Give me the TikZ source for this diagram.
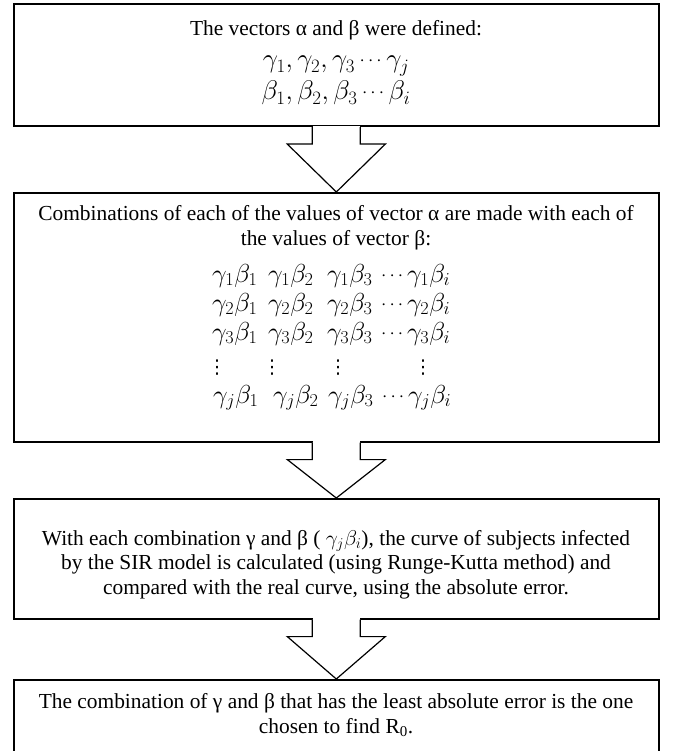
\RequirePackage{fix-cm}
\documentclass[tikz,border=0pt]{standalone}
\usepackage{fontspec}
\setmainfont{Liberation Serif}
\newfontfamily\dejavu{DejaVu Sans}
\usetikzlibrary{calc}
\newcommand\sdots{\mathinner{\raisebox{2pt}{\fontsize{19}{20}\selectfont$\cdots$}}}
\newcommand\mrow[8]{\makebox[#1][l]{$#5$}\makebox[#2][l]{$#6$}\makebox[#3][l]{$#7$}\makebox[#4][c]{$\sdots$}$#8$}
\newcommand\blockarr[2]{%
  \fill[white] ($(#1.south)+(-23.4,1.3)$) rectangle ($(#1.south)+(23.4,-1.3)$);
  \draw[blockarrow] ($(#1.south)+(-24,0)$) -- ($(#1.south)+(-24,-17)$) -- ($(#1.south)+(-49,-17)$)
    -- (#2.north) -- ($(#1.south)+(49,-17)$) -- ($(#1.south)+(24,-17)$) -- ($(#1.south)+(24,0)$);}
\tikzset{
  x=1pt, y=1pt,
  box/.style={draw, line width=1.6pt, inner sep=0pt, anchor=north west, minimum width=645pt},
  blockarrow/.style={draw, line width=1.2pt, fill=white, line join=miter},
  txt/.style={inner sep=0pt, anchor=base, font=\fontsize{21.4}{24}\selectfont},
  mth/.style={inner sep=0pt, anchor=base, font=\fontsize{27}{30}\selectfont},
  mrw/.style={inner sep=0pt, anchor=base west, font=\fontsize{26}{30}\selectfont},
  vd/.style={inner sep=0pt, anchor=base, font=\fontsize{19}{20}\dejavu},
}
\begin{document}
\begin{tikzpicture}
\useasboundingbox (0,0) rectangle (676,-751);
% boxes
\node[box, minimum height=122pt] (b1) at (13,-3.5) {};
\node[box, minimum height=249pt] (b2) at (13,-192) {};
\node[box, minimum height=120pt] (b3) at (13,-498) {};
\node[box, minimum height=100pt] (b4) at (13,-679) {};
% arrows
\blockarr{b1}{b2}
\blockarr{b2}{b3}
\blockarr{b3}{b4}
% box 1 text
\node[txt] (t1) at (336,-36) {The vectors α and β were defined:};
\node[mth] (g1) at (336,-68) {$\gamma_1,\gamma_2,\gamma_3\sdots\gamma_j$};
\node[mth] (be1) at (336,-100) {$\beta_1,\beta_2,\beta_3\sdots\beta_i$};
% box 2 text
\node[txt] (t2a) at (336,-221) {Combinations of each of the values of vector α are made with each of};
\node[txt] (t2b) at (336,-245) {the values of vector β:};
\node[mrw] (r1) at (212,-282) {\mrow{56pt}{59pt}{50pt}{30pt}{\gamma_1\beta_1}{\gamma_1\beta_2}{\gamma_1\beta_3}{\gamma_1\beta_i}};
\node[mrw] (r2) at (212,-311) {\mrow{56pt}{59pt}{50pt}{30pt}{\gamma_2\beta_1}{\gamma_2\beta_2}{\gamma_2\beta_3}{\gamma_2\beta_i}};
\node[mrw] (r3) at (212,-340) {\mrow{56pt}{59pt}{50pt}{30pt}{\gamma_3\beta_1}{\gamma_3\beta_2}{\gamma_3\beta_3}{\gamma_3\beta_i}};
\node[vd] (v1) at (217,-373) {⋮};
\node[vd] (v2) at (272,-373) {⋮};
\node[vd] (v3) at (338,-373) {⋮};
\node[vd] (v4) at (423,-373) {⋮};
\node[mrw] (r5) at (213,-403) {\mrow{60pt}{55pt}{50pt}{30pt}{\gamma_j\beta_1}{\gamma_j\beta_2}{\gamma_j\beta_3}{\gamma_j\beta_i}};
% box 3 text
\node[txt] (t3a) at (336,-545) {With each combination γ and β ( $\gamma_j\beta_i$), the curve of subjects infected};
\node[txt] (t3b) at (336,-569) {by the SIR model is calculated (using Runge-Kutta method) and};
\node[txt] (t3c) at (336,-594) {compared with the real curve, using the absolute error.};
% box 4 text
\node[txt] (t4a) at (336,-708) {The combination of γ and β that has the least absolute error is the one};
\node[txt] (t4b) at (336,-733) {chosen to find R\textsubscript{0}.};
\end{tikzpicture}
\end{document}
